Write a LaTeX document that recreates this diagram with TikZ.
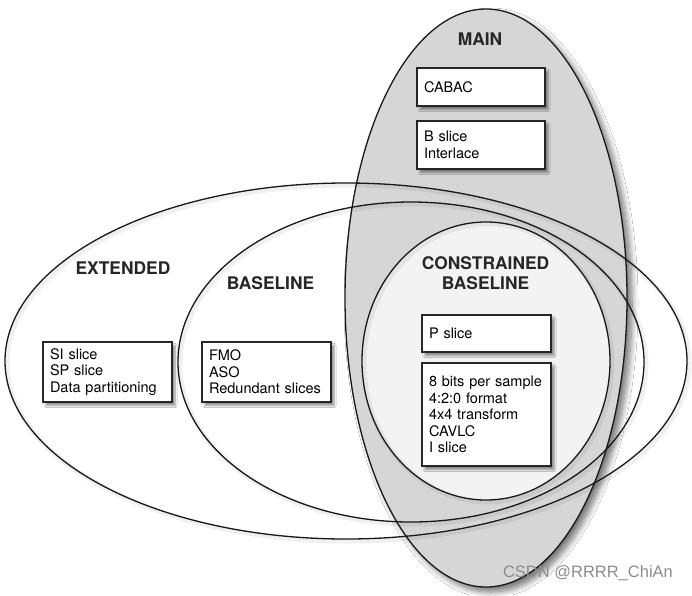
\documentclass[tikz,border=0pt]{standalone}
\usepackage{fontspec}
\setmainfont{TeX Gyre Heros}
\newfontfamily\wmfont{Liberation Sans}
\usetikzlibrary{shadows.blur}
\definecolor{maingray}{RGB}{214,214,214}
\definecolor{cbgray}{RGB}{243,243,243}
\begin{document}
\begin{tikzpicture}[x=1pt,y=-1pt,
  ring/.style={line width=1.3pt, draw=black!90},
  ringshadow/.style={draw=black, line width=5pt, opacity=.06},
  featbox/.style={draw=black!85, line width=1.5pt, fill=white, anchor=north west,
    align=left, inner xsep=7pt, inner ysep=0pt, outer sep=0pt,
    font=\fontsize{14.5}{16.5}\selectfont,
    blur shadow={shadow xshift=3pt, shadow yshift=-3.5pt, shadow blur steps=6, shadow opacity=45}},
  profile/.style={font=\fontsize{17.4}{20.7}\selectfont\bfseries, text=black!85, inner sep=0pt, align=center}
]
\useasboundingbox[fill=white] (0,0) rectangle (692,595);

% MAIN region (filled, with shadow)
\path[fill=maingray, blur shadow={shadow xshift=5pt, shadow yshift=-5pt, shadow blur steps=10, shadow blur radius=6pt, shadow opacity=55}]
  (486,298) ellipse [x radius=141pt, y radius=289pt];
% CONSTRAINED BASELINE region
\path[fill=cbgray] (486,361) ellipse [x radius=124pt, y radius=139pt];

% soft shadows of the outlines
\draw[ringshadow] (348,363) ellipse [x radius=341pt, y radius=178pt];
\draw[ringshadow] (413,364) ellipse [x radius=233pt, y radius=160pt];
\draw[ringshadow] (488,363) ellipse [x radius=124pt, y radius=139pt];

% outlines
\draw[ring] (486,298) ellipse [x radius=141pt, y radius=289pt];
\draw[ring] (486,361) ellipse [x radius=124pt, y radius=139pt];
\draw[ring] (346,361) ellipse [x radius=341pt, y radius=178pt];
\draw[ring] (411,362) ellipse [x radius=233pt, y radius=160pt];

% feature boxes
\node[featbox, text width=114pt, minimum height=38pt] (cabac) at (417,68) {CABAC};
\node[featbox, text width=114pt, minimum height=48pt] (bslice) at (417,121) {B slice\\Interlace};
\node[featbox, text width=115pt, minimum height=60pt] (si) at (43,342) {SI slice\\SP slice\\Data partitioning};
\node[featbox, text width=115pt, minimum height=60pt] (fmo) at (202,342) {FMO\\ASO\\Redundant slices};
\node[featbox, text width=115pt, minimum height=37pt] (pslice) at (422,315) {P slice};
\node[featbox, text width=115pt, minimum height=103pt] (bits) at (422,363) {8 bits per sample\\4:2:0 format\\4x4 transform\\CAVLC\\I slice};

% profile labels
\node[profile, anchor=base] (main) at (480,45.3) {MAIN};
\node[profile, anchor=base] (ext) at (123,274.3) {EXTENDED};
\node[profile, anchor=base] (base) at (270.5,289.7) {BASELINE};
\node[profile] (cb) at (485.5,273) {CONSTRAINED\\BASELINE};

% watermark
\node[text=black!45, font=\wmfont\fontsize{16.5}{16.5}\selectfont, inner sep=0pt] (wm) at (588,573) {CSDN @RRRR\_ChiAn};
\end{tikzpicture}
\end{document}
